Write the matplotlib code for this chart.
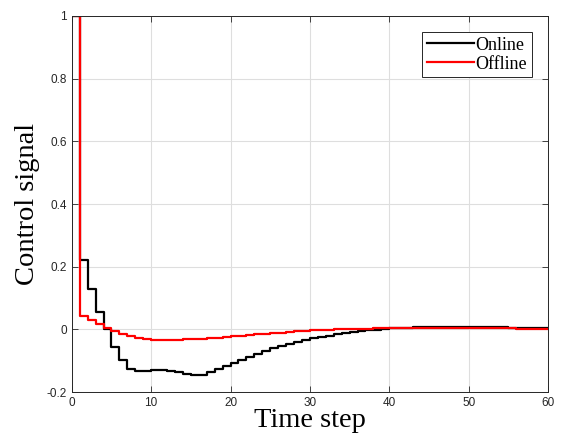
import numpy as np
import matplotlib
matplotlib.use("Agg")
import matplotlib.pyplot as plt

# control signal per time step (stairs, value held over [k, k+1))
t = np.arange(0, 61)
online = [1.0, 0.22, 0.128, 0.056, 0.0, -0.057, -0.098, -0.128, -0.133, -0.132,
          -0.130, -0.131, -0.132, -0.136, -0.142, -0.146, -0.146, -0.137, -0.128, -0.118,
          -0.108, -0.098, -0.088, -0.078, -0.068, -0.060, -0.053, -0.046, -0.040, -0.034,
          -0.029, -0.024, -0.020, -0.016, -0.012, -0.009, -0.006, -0.003, -0.001, 0.001,
          0.003, 0.004, 0.005, 0.006, 0.007, 0.0075, 0.008, 0.008, 0.0082, 0.008,
          0.0078, 0.0074, 0.007, 0.0065, 0.006, 0.0054, 0.0048, 0.0042, 0.0036, 0.003,
          0.003]
offline = [1.0, 0.043, 0.029, 0.016, 0.004, -0.005, -0.014, -0.022, -0.028, -0.032,
           -0.035, -0.035, -0.034, -0.033, -0.032, -0.031, -0.030, -0.028, -0.026, -0.024,
           -0.022, -0.020, -0.018, -0.016, -0.014, -0.012, -0.010, -0.008, -0.006, -0.005,
           -0.003, -0.002, -0.001, 0.000, 0.001, 0.0015, 0.002, 0.0025, 0.003, 0.0035,
           0.004, 0.0042, 0.0045, 0.0047, 0.0048, 0.005, 0.005, 0.0049, 0.0047, 0.0045,
           0.0043, 0.004, 0.0037, 0.0034, 0.0031, 0.0028, 0.0025, 0.0022, 0.0019, 0.0016,
           0.0016]

fig = plt.figure(figsize=(5.65, 4.44), dpi=100)
ax = fig.add_axes([0.127, 0.117, 0.843, 0.847])

ax.step(t, online, where="post", color="black", lw=1.6, label="Online")
ax.step(t, offline, where="post", color="red", lw=1.6, label="Offline")

ax.set_xlim(0, 60)
ax.set_ylim(-0.2, 1)
ax.set_xticks(np.arange(0, 61, 10))
ax.set_yticks(np.arange(-0.2, 1.01, 0.2))
ax.set_yticklabels(["-0.2", "0", "0.2", "0.4", "0.6", "0.8", "1"])
ax.grid(True, color="#dedede", lw=0.8)
ax.set_axisbelow(True)
ax.tick_params(direction="in", top=True, right=True, labelsize=8.5, length=4,
               width=0.6, colors="#262626")
for lbl in ax.get_xticklabels() + ax.get_yticklabels():
    lbl.set_family("Liberation Sans")
for s in ax.spines.values():
    s.set_color("#262626")
    s.set_linewidth(0.7)

ax.set_xlabel("Time step", family="Liberation Serif", fontsize=20.5, labelpad=-1)
ax.set_ylabel("Control signal", family="Liberation Serif", fontsize=20.5, labelpad=5)

leg = ax.legend(loc="upper right", prop={"family": "Liberation Serif", "size": 13},
                fancybox=False, edgecolor="#262626", framealpha=1,
                handlelength=2.6, handletextpad=0.1, borderpad=0.25,
                labelspacing=0.1, borderaxespad=0.9)
leg.get_frame().set_linewidth(0.7)

fig.savefig("out.png", dpi=100)
